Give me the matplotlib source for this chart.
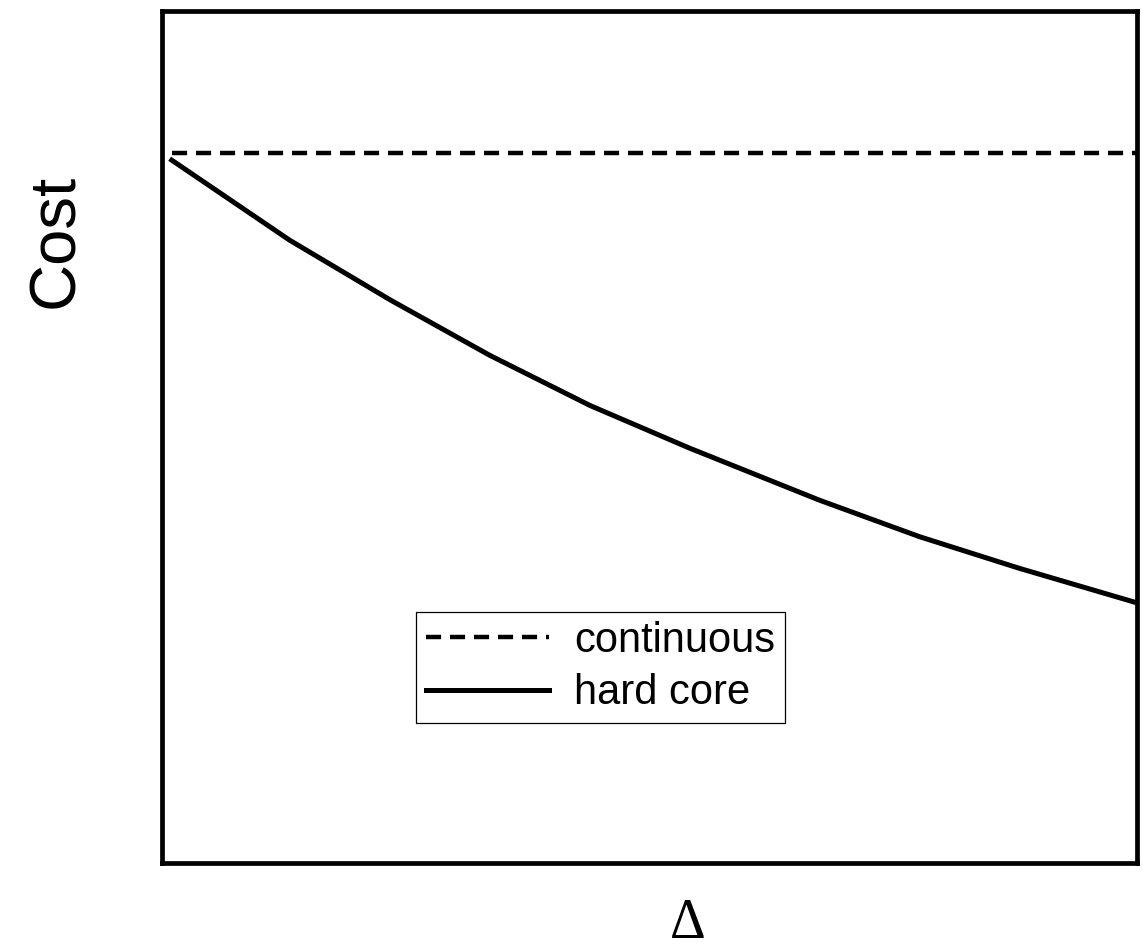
import matplotlib
matplotlib.use("Agg")
import matplotlib.pyplot as plt

# values (axes normalised to 0..1, no ticks shown)
delta = [0.010, 0.131, 0.234, 0.336, 0.439, 0.541, 0.674, 0.777, 0.879, 0.998]
cost_hard = [0.825, 0.731, 0.661, 0.596, 0.537, 0.487, 0.426, 0.383, 0.346, 0.306]
cost_cont = 0.833

fig = plt.figure(figsize=(11.43, 9.51), dpi=100)
ax = fig.add_axes([0.1417, 0.0925, 0.8531, 0.8959])

ax.axhline(cost_cont, xmin=0.01, xmax=1.0, color="k", lw=3.2,
           dashes=(3.4, 2.0), label="continuous")
ax.plot(delta, cost_hard, color="k", lw=3.6, label="hard core")

ax.set_xlim(0, 1)
ax.set_ylim(0, 1)
ax.set_xticks([]); ax.set_yticks([])
for sp in ax.spines.values():
    sp.set_linewidth(3.4)

leg = ax.legend(loc="upper left", bbox_to_anchor=(0.261, 0.295),
                prop={"family": "Liberation Sans", "size": 30},
                handlelength=2.95, handletextpad=0.62, fancybox=False,
                framealpha=1, edgecolor="k", borderpad=0.22,
                labelspacing=0.3, borderaxespad=0)
leg.get_frame().set_linewidth(0.9)

fig.text(56 / 1143, 1 - 241 / 951, "Cost", rotation=90, ha="center", va="center",
         family="Liberation Sans", fontsize=47)
fig.text(688 / 1143, 1 - 950 / 951, "Δ", ha="center", va="bottom",
         family="Liberation Serif", fontsize=40)

fig.savefig("out.png", dpi=100)
